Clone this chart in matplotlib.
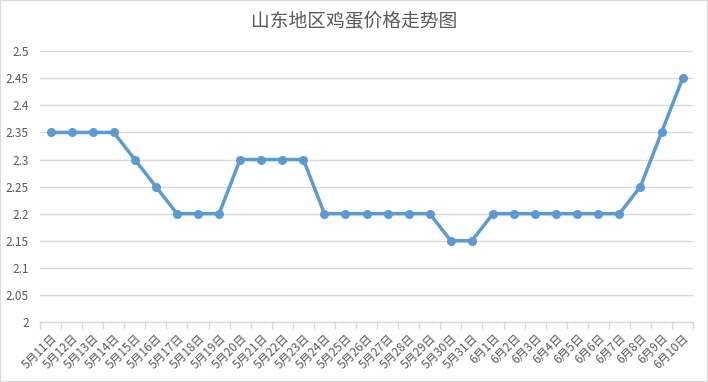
import matplotlib
matplotlib.use('Agg')
import matplotlib.pyplot as plt
import numpy as np

plt.rcParams['font.family'] = ['Noto Sans CJK SC', 'DejaVu Sans']

dates = ['5月11日', '5月12日', '5月13日', '5月14日', '5月15日', '5月16日', '5月17日',
         '5月18日', '5月19日', '5月20日', '5月21日', '5月22日', '5月23日', '5月24日',
         '5月25日', '5月26日', '5月27日', '5月28日', '5月29日', '5月30日', '5月31日',
         '6月1日', '6月2日', '6月3日', '6月4日', '6月5日', '6月6日', '6月7日',
         '6月8日', '6月9日', '6月10日']
prices = [2.35, 2.35, 2.35, 2.35, 2.3, 2.25, 2.2, 2.2, 2.2, 2.3, 2.3, 2.3, 2.3, 2.2,
          2.2, 2.2, 2.2, 2.2, 2.2, 2.15, 2.15, 2.2, 2.2, 2.2, 2.2, 2.2, 2.2, 2.2,
          2.25, 2.35, 2.45]
yticks = [2, 2.05, 2.1, 2.15, 2.2, 2.25, 2.3, 2.35, 2.4, 2.45, 2.5]

grey = '#595959'
blue = '#5B9BD5'

fig = plt.figure(figsize=(7.08, 3.82), dpi=100)
fig.patches.append(plt.Rectangle((0, 0), 1, 1, transform=fig.transFigure,
                                 fill=False, edgecolor='#D9D9D9', linewidth=1.5))
ax = fig.add_axes([0.0565, 0.157, 0.9225, 0.709])

x = np.arange(len(dates))
ax.plot(x, prices, color=blue, linewidth=2.5, marker='o', markersize=5.5, zorder=3)

ax.set_xlim(-0.5, len(dates) - 0.5)
ax.set_ylim(2, 2.5)
ax.set_yticks(yticks)
ax.set_yticklabels([('%g' % v) for v in yticks], fontsize=8.5, color=grey)
ax.yaxis.grid(True, color='#D9D9D9', linewidth=1)
ax.set_axisbelow(True)

ax.set_xticks(x)
ax.set_xticklabels(dates, rotation=45, ha='right', rotation_mode='anchor',
                   fontsize=8.5, color=grey)
ax.set_xticks(np.arange(len(dates) + 1) - 0.5, minor=True)
ax.tick_params(axis='x', which='major', length=0, pad=7)
ax.tick_params(axis='x', which='minor', length=5, color='#D9D9D9', width=1)
ax.tick_params(axis='y', length=0, pad=8)

for s in ['top', 'right', 'left']:
    ax.spines[s].set_visible(False)
ax.spines['bottom'].set_color('#D9D9D9')
ax.spines['bottom'].set_linewidth(1)

fig.text(0.5, 0.945, '山东地区鸡蛋价格走势图', ha='center', va='center',
         fontsize=13.5, color=grey)

fig.savefig('out.png', dpi=100)
